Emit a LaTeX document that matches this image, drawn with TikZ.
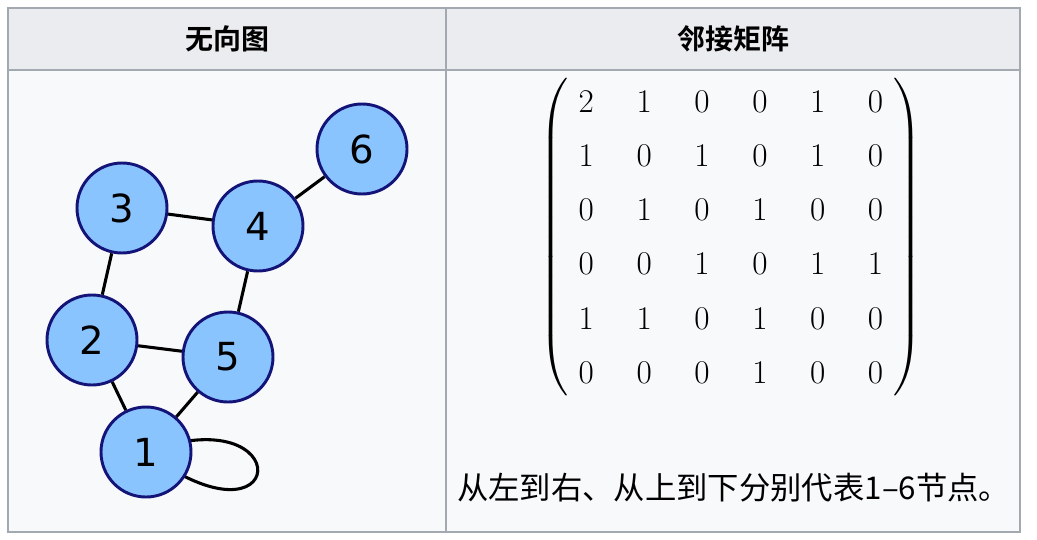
\documentclass[tikz,border=0pt]{standalone}
\usepackage{fontspec}
\usepackage{amsmath}
\usetikzlibrary{backgrounds}
\newfontfamily\cjk{Noto Sans CJK SC}
\newfontfamily\cjkb{Noto Sans CJK SC Bold}
\newfontfamily\dv{DejaVu Sans}
\definecolor{hdr}{HTML}{EAECF0}
\definecolor{bodyc}{HTML}{F8F9FA}
\definecolor{brd}{HTML}{A2A9B1}
\definecolor{nfill}{HTML}{8AC4FF}
\definecolor{nline}{HTML}{141478}
\tikzset{vtx/.style={circle,draw=nline,line width=2.2pt,fill=nfill,minimum size=67.5pt,inner sep=0pt,font=\dv\fontsize{29}{32}\selectfont},
edge/.style={line width=2.3pt,black}}
\begin{document}
\begin{tikzpicture}[x=0.75pt,y=-0.75pt]
\useasboundingbox (0,0) rectangle (1037,539);
\node[font=\cjkb\fontsize{21}{24}\selectfont] (h1) at (227,39) {无向图};
\node[font=\cjkb\fontsize{21}{24}\selectfont] (h2) at (733,39) {邻接矩阵};
\node[vtx] (n1) at (146,452) {1};
\node[vtx] (n2) at (92,340) {2};
\node[vtx] (n3) at (122,208) {3};
\node[vtx] (n4) at (258,226) {4};
\node[vtx] (n5) at (228,357) {5};
\node[vtx] (n6) at (362,149) {6};
\begin{scope}[on background layer]
\fill[white] (0,0) rectangle (1037,539);
\fill[hdr] (8,8) rectangle (1020,70);
\fill[bodyc] (8,70) rectangle (1020,532);
\draw[brd,line width=1pt] (8,8) rectangle (1020,532) (8,70) -- (1020,70) (446,8) -- (446,532);
\draw[edge] (n1.center) .. controls (300,395) and (290,560) .. (n1.center);
\foreach \a/\b in {n1/n2,n1/n5,n2/n5,n2/n3,n3/n4,n4/n5,n4/n6}{\draw[edge] (\a) -- (\b);}
\end{scope}
\node (m) at (731,237) {\fontsize{23}{28}\selectfont\renewcommand{\arraystretch}{1.45}\setlength{\arraycolsep}{16pt}$\left(\begin{array}{@{\hspace{8pt}}cccccc@{\hspace{8pt}}}
2&1&0&0&1&0\\
1&0&1&0&1&0\\
0&1&0&1&0&0\\
0&0&1&0&1&1\\
1&1&0&1&0&0\\
0&0&0&1&0&0
\end{array}\right)$};
\node[font=\cjk\fontsize{23.5}{27}\selectfont,anchor=west,inner sep=0pt] (t) at (457,488) {从左到右、从上到下分别代表1–6节点。};
\end{tikzpicture}
\end{document}
